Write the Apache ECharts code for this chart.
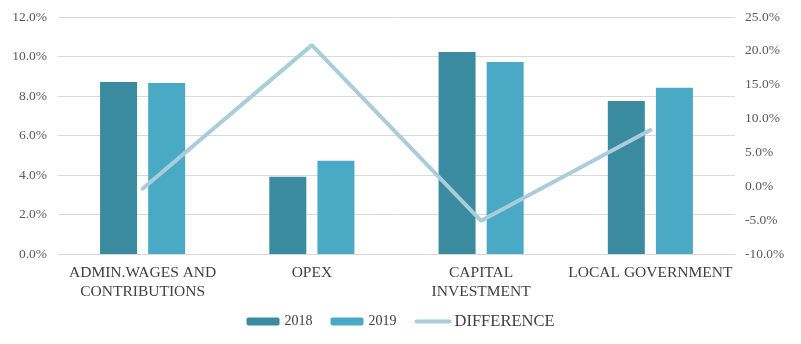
<!DOCTYPE html>
<html>
<head>
<meta charset="utf-8">
<script src="https://cdn.jsdelivr.net/npm/echarts@6/dist/echarts.min.js"></script>
<style>
  html, body { margin: 0; padding: 0; background: #fff; }
  #chart { width: 801px; height: 344px; }
</style>
</head>
<body>
<div id="chart"></div>
<script>
// data (percent)
var categories = ['ADMIN.WAGES AND\nCONTRIBUTIONS', 'OPEX', 'CAPITAL\nINVESTMENT', 'LOCAL GOVERNMENT'];
var values2018 = [8.71, 3.91, 10.23, 7.75];
var values2019 = [8.66, 4.72, 9.72, 8.42];
var difference = [-0.35, 20.85, -5.1, 8.3];

var font = 'Liberation Serif';

var chart = echarts.init(document.getElementById('chart'));
chart.setOption({
    animation: false,
    textStyle: { fontFamily: font },
    grid: { left: 58, right: 66, top: 17, bottom: 90 },
    legend: {
        bottom: 9,
        itemGap: 18,
        itemWidth: 33,
        itemHeight: 8,
        textStyle: { fontFamily: font, fontSize: 14, color: '#404040' },
        data: [
            { name: '2018' },
            { name: '2019' },
            {
                name: 'DIFFERENCE',
                textStyle: { fontSize: 16.5 },
                itemStyle: { opacity: 0 },
                lineStyle: { width: 4, cap: 'round' }
            }
        ]
    },
    xAxis: {
        type: 'category',
        data: categories,
        axisLine: { lineStyle: { color: '#d9d9d9' } },
        axisTick: { show: false },
        axisLabel: { fontFamily: font, fontSize: 15.5, color: '#404040', margin: 9, lineHeight: 19, interval: 0 }
    },
    yAxis: [
        {
            type: 'value',
            min: 0, max: 12, interval: 2,
            axisLine: { show: false },
            axisTick: { show: false },
            splitLine: { lineStyle: { color: '#d9d9d9' } },
            axisLabel: {
                fontFamily: font, fontSize: 13.5, color: '#595959', margin: 11,
                formatter: function (v) { return v.toFixed(1) + '%'; }
            }
        },
        {
            type: 'value',
            min: -10, max: 25, interval: 5,
            axisLine: { show: false },
            axisTick: { show: false },
            splitLine: { show: false },
            axisLabel: {
                fontFamily: font, fontSize: 13.5, color: '#595959', margin: 10,
                formatter: function (v) { return v.toFixed(1) + '%'; }
            }
        }
    ],
    series: [
        {
            name: '2018', type: 'bar', data: values2018,
            barWidth: 37, barGap: '30%',
            itemStyle: { color: '#3a8aa0' }
        },
        {
            name: '2019', type: 'bar', data: values2019,
            barWidth: 37,
            itemStyle: { color: '#4aaac6' }
        },
        {
            name: 'DIFFERENCE', type: 'line', yAxisIndex: 1, data: difference,
            symbol: 'none',
            lineStyle: { color: '#a9cdd9', width: 4, cap: 'round' },
            itemStyle: { color: '#a9cdd9' }
        }
    ]
});
</script>
</body>
</html>
